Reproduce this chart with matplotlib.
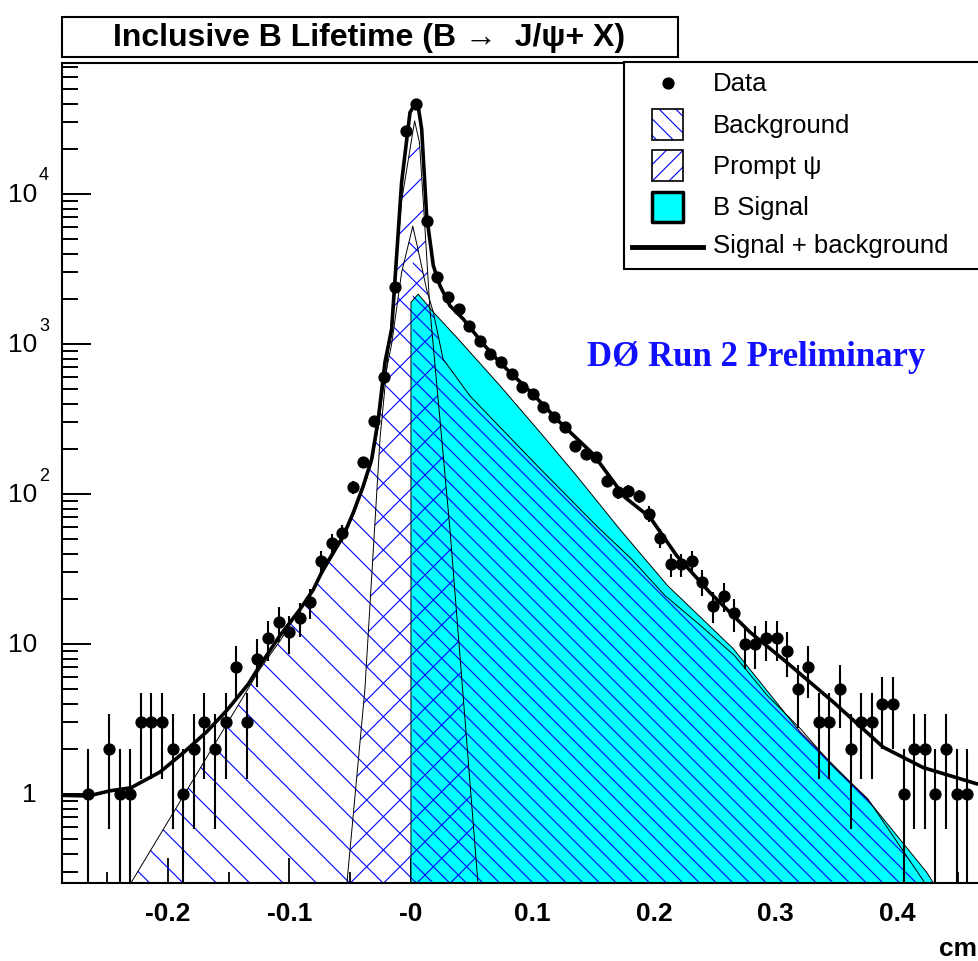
import numpy as np
import matplotlib
matplotlib.use('Agg')
import matplotlib.pyplot as plt
from matplotlib import font_manager, transforms
from matplotlib.patches import Rectangle
from matplotlib.lines import Line2D
from matplotlib.ticker import FixedLocator, LogLocator, NullFormatter

W, H = 979, 962

# lifetime histogram: 87 um bins, bin edge at zero
bin_width = 0.00872
bin_first = -31
counts = [
    1, 0, 2, 1, 1, 3, 3, 3, 2, 1,
    2, 3, 2, 3, 7, 3, 8, 11, 14, 12,
    15, 19, 36, 47, 55, 111, 164, 308, 600, 2390,
    26400, 39800, 6640, 2800, 2050, 1710, 1320, 1050, 860, 755,
    630, 515, 465, 380, 325, 280, 210, 185, 176, 123,
    103, 105, 97, 74, 51, 34, 34, 36, 26, 18,
    21, 16, 10, 10, 11, 11, 9, 5, 7, 3,
    3, 5, 2, 3, 3, 4, 4, 1, 2, 2,
    1, 2, 1, 1,
]

# fit components (cm, events per bin)
total_x = [-0.2872, -0.2656, -0.2477, -0.2305, -0.2066, -0.1868, -0.1681, -0.1517,
           -0.1339, -0.1243, -0.1078, -0.0914, -0.0804, -0.0722, -0.0557, -0.0475,
           -0.0393, -0.0323, -0.0269, -0.0214, -0.0159, -0.0077, -0.0008, 0.0052,
           0.0088, 0.0129, 0.0184, 0.0239, 0.0321, 0.0430, 0.0595, 0.0733, 0.0996,
           0.1226, 0.1498, 0.1761, 0.1967, 0.2187, 0.2461, 0.2790, 0.3092, 0.3476,
           0.3887, 0.4216, 0.4656, 0.5]
total_y = [0.98, 0.97, 1.05, 1.1, 1.4, 1.9, 2.6, 3.6,
           5.4, 7.2, 11.4, 17, 23, 31.6, 52.5, 75,
           113, 171, 316, 755, 1259, 11970, 35000, 41900,
           27100, 7160, 3327, 2448, 1800, 1468, 1000, 750, 470,
           300, 185, 95, 70, 38.8, 22, 12, 7.55, 4.1,
           2.05, 1.5, 1.17, 1.1]

# background: negative side and positive side meet at the apex node
bkg_left_x = [-0.2305, -0.1243, -0.1078, -0.0914, -0.0722, -0.0557, -0.0475,
              -0.0393, -0.0323, -0.0269, -0.0214, -0.0159, -0.0077, 0.0015]
bkg_left_y = [0.255, 6.8, 10.5, 17, 30, 51, 72,
              108, 160, 280, 600, 1000, 3000, 6100]
bkg_right_x = [0.0015, 0.0060, 0.0129, 0.0184, 0.0264, 0.0486, 0.1040, 0.1530,
               0.1816, 0.2091, 0.2387, 0.2661, 0.2936, 0.3210, 0.3484, 0.3759, 0.4230]
bkg_right_y = [6100, 4200, 2300, 1630, 794, 450, 154, 61,
               36.8, 21, 13.2, 8.4, 4.5, 2.7, 1.5, 0.93, 0.255]

prompt_x = [-0.0527, -0.0379, -0.0255, -0.0159, -0.0077, 0.0030, 0.0070, 0.0100,
            0.0156, 0.0321, 0.0551]
prompt_y = [0.255, 5, 233, 1500, 9000, 30700, 22000, 9300,
            1710, 58, 0.255]

bsig_x = [0.0, 0.0060, 0.0184, 0.0376, 0.0733, 0.1062, 0.1364, 0.1720,
          0.2112, 0.2653, 0.3202, 0.3753, 0.4245, 0.4300]
bsig_y = [1900, 2150, 1630, 1108, 527, 258, 132, 58,
          24.5, 9.3, 2.6, 0.93, 0.3, 0.255]

xtick_vals = [-0.2, -0.1, 0.0, 0.1, 0.2, 0.3, 0.4]
xtick_text = ['-0.2', '-0.1', '-0', '0.1', '0.2', '0.3', '0.4']
ytick_vals = [1, 10, 100, 1000, 10000]
ytick_base = ['1', '10', '10', '10', '10']
ytick_sup = ['', '', '2', '3', '4']

legend_labels = ['Data', 'Background', 'Prompt \u03c8', 'B Signal', 'Signal + background']


def pick(*names):
    have = {f.name for f in font_manager.fontManager.ttflist}
    for n in names:
        if n in have:
            return n
    return 'DejaVu Sans'


SANS = pick('Liberation Sans', 'Arial')
SERIF = pick('Liberation Serif', 'DejaVu Serif')

plt.rcParams['hatch.linewidth'] = 0.8
BLUE = '#0000ff'
CYAN = '#00ffff'


def fx(px):
    return px / W


def fy(py):
    return 1 - py / H


fig = plt.figure(figsize=(W / 100, H / 100), dpi=100)
ax = fig.add_axes([fx(62), fy(884), (1018.5 - 62) / W, (884 - 64) / H])
ax.set_yscale('log')
ax.set_xlim(-0.2872, 0.5)
ax.set_ylim(0.2551, 7.47e4)

floor = 1e-3

# filled components: cyan signal under the hatched background and prompt
ax.fill_between(bsig_x, bsig_y, floor, facecolor=CYAN, edgecolor='none', zorder=1)
ax.fill_between(bkg_left_x, bkg_left_y, floor, facecolor='none', edgecolor=BLUE,
                hatch='\\', linewidth=0, zorder=1.1)
ax.fill_between(bkg_right_x, bkg_right_y, floor, facecolor='none', edgecolor=BLUE,
                hatch='\\\\', linewidth=0, zorder=1.1)
ax.fill_between(prompt_x, prompt_y, floor, facecolor='none', edgecolor=BLUE,
                hatch='/', linewidth=0, zorder=1.2)
ax.plot([bsig_x[0]] + bsig_x, [floor] + bsig_y, color='black', lw=0.7, zorder=1.5)
ax.plot(bkg_left_x + bkg_right_x, bkg_left_y + bkg_right_y, color='black', lw=0.7,
        zorder=1.5)
ax.plot(prompt_x, prompt_y, color='black', lw=0.7, zorder=1.5)

ax.plot(total_x, total_y, color='black', lw=2.6, zorder=2.5)

# data with sqrt(N) errors
n = np.array(counts, dtype=float)
centers = (np.arange(len(counts)) + bin_first + 0.5) * bin_width
keep = n > 0
xc, nc = centers[keep], n[keep]
err = np.sqrt(nc)
ax.vlines(xc, np.clip(nc - err, floor, None), nc + err, color='black', lw=1.5, zorder=3)
ax.plot(xc, nc, 'o', color='black', ms=7.8, zorder=3)

# axes styling
ax.set_axisbelow(True)
for side in ['left', 'bottom', 'top']:
    ax.spines[side].set_linewidth(1.5)
ax.spines['right'].set_visible(False)

ax.set_xticks(xtick_vals)
ax.set_xticklabels(xtick_text, fontsize=19, fontweight='bold', family=SANS)
ax.set_xticks(np.arange(-0.25, 0.5, 0.1), minor=True)
ax.tick_params(axis='x', which='major', direction='in', length=18, width=1.3, pad=13)
ax.tick_params(axis='x', which='minor', direction='in', length=8, width=1.3)

ax.yaxis.set_major_locator(FixedLocator(ytick_vals))
ax.yaxis.set_minor_locator(LogLocator(base=10, subs=np.arange(2, 10)))
ax.yaxis.set_major_formatter(NullFormatter())
ax.yaxis.set_minor_formatter(NullFormatter())
ax.tick_params(axis='y', which='major', direction='in', length=21, width=1.4)
ax.tick_params(axis='y', which='minor', direction='in', length=11.5, width=1.4)

ylab = transforms.blended_transform_factory(fig.transFigure, ax.transData)
sup_shift = transforms.ScaledTranslation(0, 0.19, fig.dpi_scale_trans)
for v, base, sup in zip(ytick_vals, ytick_base, ytick_sup):
    ax.text(fx(37), v, base, transform=ylab, ha='right', va='center',
            fontsize=19, family=SANS)
    if sup:
        ax.text(fx(39), v, sup, transform=ylab + sup_shift, ha='left', va='center',
                fontsize=13, family=SANS)

fig.text(fx(977), fy(949), 'cm', ha='right', va='center', fontsize=19,
         fontweight='bold', family=SANS)

# title box
fig.add_artist(Rectangle((fx(62), fy(58)), fx(678) - fx(62), fy(18) - fy(58),
                         transform=fig.transFigure, facecolor='white',
                         edgecolor='black', lw=1.5))
fig.text(fx(369), fy(38), 'Inclusive B Lifetime (B \u2192  J/\u03c8+ X)', ha='center',
         va='center', fontsize=23, fontweight='bold', family=[SANS, 'DejaVu Sans'])

fig.text(fx(587), fy(357), 'D\u00d8 Run 2 Preliminary', ha='left', va='center',
         fontsize=25, fontweight='bold', family=SERIF, color='#1010ff')

# legend
fig.add_artist(Rectangle((fx(624), fy(270)), fx(995) - fx(624), fy(63) - fy(270),
                         transform=fig.transFigure, facecolor='white',
                         edgecolor='black', lw=1.5, zorder=5))
fig.add_artist(Line2D([fx(668)], [fy(84)], marker='o', ms=7.8, color='black',
                      linestyle='none', transform=fig.transFigure, zorder=6))
for py, hatch in [(126, '\\\\'), (167, '//')]:
    box = (fx(652), fy(py + 15)), 31 / W, 31 / H
    fig.add_artist(Rectangle(*box, transform=fig.transFigure, facecolor='white',
                             edgecolor=BLUE, hatch=hatch, lw=0, zorder=6))
    fig.add_artist(Rectangle(*box, transform=fig.transFigure, facecolor='none',
                             edgecolor='black', lw=1.2, zorder=6))
fig.add_artist(Rectangle((fx(652), fy(223)), 31 / W, 30 / H, transform=fig.transFigure,
                         facecolor=CYAN, edgecolor='black', lw=2.5, joinstyle='round',
                         zorder=6))
fig.add_artist(Line2D([fx(632), fx(703)], [fy(248), fy(248)], lw=3.5, color='black',
                      transform=fig.transFigure, zorder=6))
for py, label in zip([84, 126, 167, 208, 246], legend_labels):
    fig.text(fx(713), fy(py), label, ha='left', va='center', fontsize=18.5,
             family=[SANS, 'DejaVu Sans'], zorder=7)

fig.savefig('out.png', dpi=100)
